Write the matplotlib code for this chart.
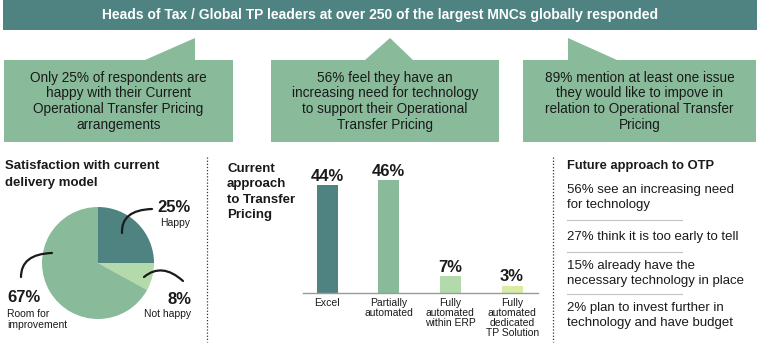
import matplotlib.pyplot as plt
from matplotlib.patches import Polygon, Rectangle, PathPatch
from matplotlib.path import Path
from matplotlib.transforms import blended_transform_factory

plt.rcParams['font.family'] = ['Liberation Sans', 'DejaVu Sans']

W, H = 760, 346

# ---- data ----
banner_text = 'Heads of Tax / Global TP leaders at over 250 of the largest MNCs globally responded'
callout_texts = [
    'Only 25% of respondents are\nhappy with their Current\nOperational Transfer Pricing\narrangements',
    '56% feel they have an\nincreasing need for technology\nto support their Operational\nTransfer Pricing',
    '89% mention at least one issue\nthey would like to impove in\nrelation to Operational Transfer\nPricing',
]
pie_title = 'Satisfaction with current\ndelivery model'
pie_labels = ['Happy', 'Not happy', 'Room for\nimprovement']
pie_values = [25, 8, 67]

bar_title = 'Current\napproach\nto Transfer\nPricing'
bar_labels = ['Excel', 'Partially\nautomated', 'Fully\nautomated\nwithin ERP',
              'Fully\nautomated\ndedicated\nTP Solution']
bar_values = [44, 46, 7, 3]

future_title = 'Future approach to OTP'
future_items = [
    '56% see an increasing need\nfor technology',
    '27% think it is too early to tell',
    '15% already have the\nnecessary technology in place',
    '2% plan to invest further in\ntechnology and have budget',
]

TEAL = '#4e8381'
GREEN = '#89bb9b'
LIGHT = '#b4d9aa'
PALE = '#d8eca4'
INK = '#1a1a1a'


def draw_lines(ax, x, y0, dy, text, transform=None, **kw):
    """write text line by line, y grows downward (pixel coords)"""
    for k, line in enumerate(text.split('\n')):
        ax.text(x, y0 + k * dy, line, va='center',
                transform=transform if transform is not None else ax.transData, **kw)


fig = plt.figure(figsize=(W / 100, H / 100), dpi=100)
fig.patch.set_facecolor('white')

# ---- pie ----
cx, cy, r = 98, 263, 56
ax_pie = fig.add_axes([(cx - r) / W, (H - cy - r) / H, 2 * r / W, 2 * r / H])
ax_pie.pie(pie_values, colors=[TEAL, LIGHT, GREEN], startangle=90,
           counterclock=False, wedgeprops=dict(linewidth=0))
ax_pie.set_xlim(-1, 1)
ax_pie.set_ylim(-1, 1)
ax_pie.set_aspect('equal')

# ---- bars ----
base_y, px_per_pct = 293, 2.45
ax_bar = fig.add_axes([303 / W, (H - base_y) / H, (538 - 303) / W, 50 * px_per_pct / H])
xs = list(range(len(bar_values)))
ax_bar.bar(xs, bar_values, width=0.34, color=[TEAL, GREEN, LIGHT, PALE])
ax_bar.set_xlim(-0.39, 3.42)
ax_bar.set_ylim(0, 50)
for s in ['top', 'right', 'left']:
    ax_bar.spines[s].set_visible(False)
ax_bar.spines['bottom'].set_color('#9a9a9a')
ax_bar.spines['bottom'].set_linewidth(1)
ax_bar.set_xticks([])
ax_bar.set_yticks([])
ax_bar.patch.set_alpha(0)
for x, v in zip(xs, bar_values):
    ax_bar.annotate(f'{v}%', (x, v), xytext=(0, 3), textcoords='offset points',
                    ha='center', va='baseline', fontsize=12, fontweight='bold', color=INK)

# ---- overlay in pixel coords ----
ax = fig.add_axes([0, 0, 1, 1])
ax.set_xlim(0, W)
ax.set_ylim(H, 0)
ax.axis('off')

ax.add_patch(Rectangle((3, 0), 754, 30, color=TEAL, lw=0))
ax.text(380, 15, banner_text, ha='center', va='center', color='white',
        fontsize=10, fontweight='bold')

boxes = [
    [(4, 60), (145, 60), (195, 38), (195, 60), (233, 60), (233, 142), (4, 142)],
    [(271, 60), (365, 60), (390, 38), (413, 60), (499, 60), (499, 142), (271, 142)],
    [(523, 60), (568, 60), (568, 38), (617, 60), (756, 60), (756, 142), (523, 142)],
]
for verts, txt in zip(boxes, callout_texts):
    ax.add_patch(Polygon(verts, closed=True, color=GREEN, lw=0))
    xc = (verts[0][0] + verts[4][0]) / 2
    draw_lines(ax, xc, 78, 15.5, txt, ha='center', fontsize=9.8, color=INK)

# separators
for x in (207, 553):
    ax.plot([x, x], [157, 342], color='#333333', lw=0.9, ls=(0, (1, 1.5)))

# pie section
draw_lines(ax, 5, 166, 17, pie_title, ha='left', fontsize=9.5, fontweight='bold', color=INK)
ax.text(191, 207, f'{pie_values[0]}%', ha='right', va='center', fontsize=12,
        fontweight='bold', color=INK)
ax.text(190, 223, pie_labels[0], ha='right', va='center', fontsize=7.5, color=INK)
ax.text(191, 299, f'{pie_values[1]}%', ha='right', va='center', fontsize=12,
        fontweight='bold', color=INK)
ax.text(191, 314, pie_labels[1], ha='right', va='center', fontsize=7.5, color=INK)
ax.text(7, 297, f'{pie_values[2]}%', ha='left', va='center', fontsize=12,
        fontweight='bold', color=INK)
draw_lines(ax, 7, 314, 11.5, pie_labels[2], ha='left', fontsize=7.5, color=INK)

leaders = [
    [(122, 233), (121, 210), (152, 209)],
    [(144, 277), (162, 262), (183, 281)],
    [(21, 277), (21, 254), (52, 253)],
]
for pts in leaders:
    path = Path(pts, [Path.MOVETO, Path.CURVE3, Path.CURVE3])
    ax.add_patch(PathPatch(path, fill=False, lw=1.6, color=INK, capstyle='round'))

# bar section
draw_lines(ax, 227, 169, 15.3, bar_title, ha='left', fontsize=9.5, fontweight='bold', color=INK)
btrans = blended_transform_factory(ax_bar.transData, ax.transData)
for x, lab in zip(xs, bar_labels):
    draw_lines(ax, x, 303, 10, lab, transform=btrans, ha='center', fontsize=7.5, color=INK)

# future section
ax.text(567, 166, future_title, ha='left', va='center', fontsize=9.3,
        fontweight='bold', color=INK)
item_tops = [190, 237, 266, 308]
for y0, txt in zip(item_tops, future_items):
    draw_lines(ax, 567, y0, 15, txt, ha='left', fontsize=9.5, color=INK)
for y in (220, 252, 294):
    ax.plot([567, 682], [y, y], color='#c4c4c4', lw=0.8)

fig.savefig('out.png', dpi=100)
